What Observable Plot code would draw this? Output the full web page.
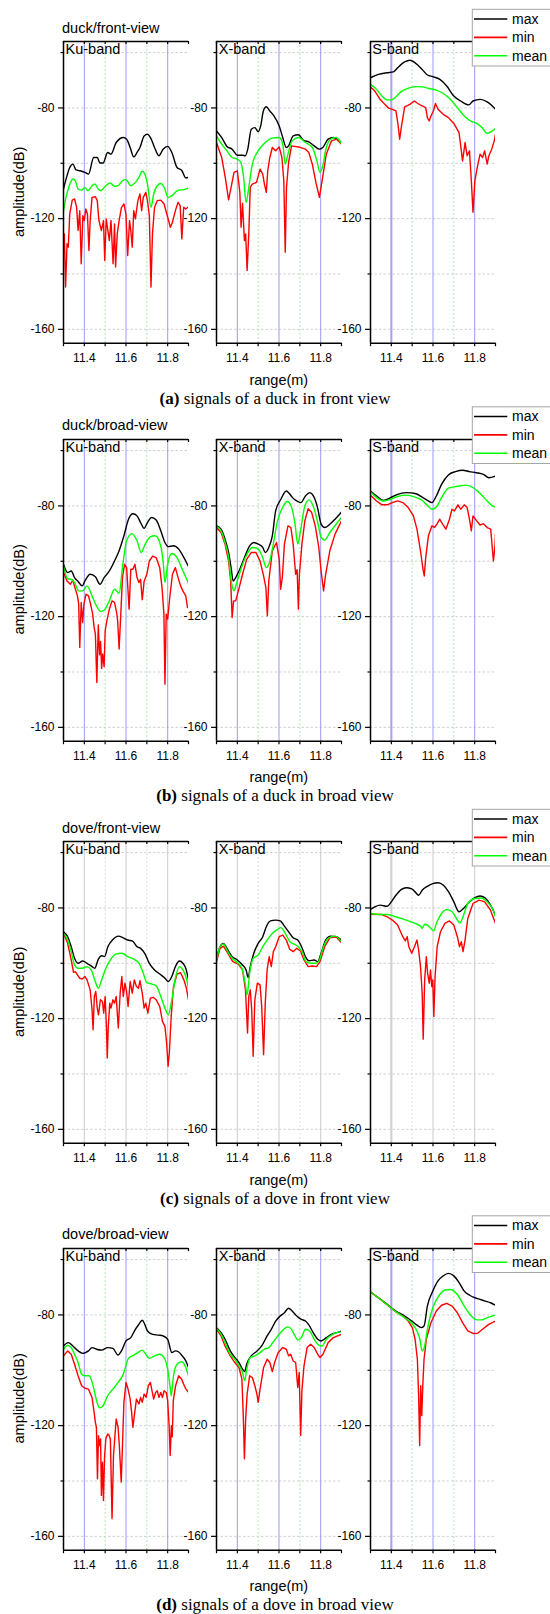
<!DOCTYPE html>
<html><head><meta charset="utf-8">
<script src="https://cdn.jsdelivr.net/npm/d3@7"></script>
<script src="https://cdn.jsdelivr.net/npm/@observablehq/plot@0.6"></script>
<style>
html,body{margin:0;padding:0;background:#fff;overflow:hidden;}
#root{position:relative;width:550px;height:1614px;overflow:hidden;}
.cell{position:absolute;}
</style></head><body><div id="root"></div>
<script>
// ---------- labels & ticks ----------
const panelTitles = ["duck/front-view","duck/broad-view","dove/front-view","dove/broad-view"];
const captionLetters = ["(a)","(b)","(c)","(d)"];
const captionTexts = [" signals of a duck in front view"," signals of a duck in broad view"," signals of a dove in front view"," signals of a dove in broad view"];
const bandNames = ["Ku-band","X-band","S-band"];
const seriesNames = ["max","min","mean"];
const seriesColors = ["#000000","#ff0000","#00ff00"];
const xTicks = [11.3,11.4,11.5,11.6,11.7,11.8,11.9];
const xTickLabels = [11.4,11.6,11.8];
const xMajorGrid = [11.4,11.6,11.8];
const xMinorGrid = [11.5,11.7];
const yTicks = [-60,-80,-100,-120,-140,-160];
const yTickLabels = [-80,-120,-160];
const yMinorTicks = [-60,-100,-140];
const xDomain = [11.3,11.9];
const yDomain = [-165,-56];
const xLabel = "range(m)";
const yLabel = "amplitude(dB)";

// ---------- (a) duck / front view ----------
const duckFrontKuMax = [[11.3,-109.3],[11.315,-105],[11.33,-101.5],[11.345,-100.3],[11.36,-102.4],[11.38,-102.7],[11.403,-103.3],[11.42,-103.9],[11.445,-97.9],[11.462,-97.9],[11.475,-99.9],[11.49,-99.9],[11.512,-96.1],[11.528,-96.7],[11.553,-92.5],[11.587,-90.7],[11.603,-91.3],[11.62,-94.3],[11.637,-97.7],[11.653,-96.1],[11.667,-94.3],[11.687,-90.1],[11.703,-89.5],[11.72,-91.1],[11.737,-94.3],[11.758,-97.3],[11.778,-94.9],[11.8,-93.9],[11.82,-96.1],[11.845,-101.5],[11.867,-102.5],[11.887,-105.3],[11.9,-105.1]];
const duckFrontKuMin = [[11.3,-132.7],[11.304,-125.5],[11.31,-144.7],[11.317,-129.1],[11.323,-130.3],[11.33,-118.3],[11.342,-113.3],[11.353,-112.9],[11.363,-115.9],[11.37,-124.3],[11.378,-117.1],[11.385,-136.3],[11.393,-118.9],[11.4,-120.7],[11.407,-116.5],[11.415,-118.3],[11.422,-131.5],[11.428,-120.7],[11.437,-112.3],[11.453,-112.1],[11.462,-113.5],[11.47,-120.7],[11.482,-124.3],[11.492,-120.7],[11.498,-135.1],[11.505,-120.1],[11.513,-124.3],[11.52,-127.9],[11.528,-120.7],[11.538,-136.3],[11.545,-121.9],[11.55,-137.5],[11.558,-125.5],[11.567,-120.7],[11.578,-116],[11.59,-114.7],[11.6,-118.5],[11.608,-133.3],[11.617,-120.7],[11.623,-124.3],[11.63,-130.3],[11.637,-117.1],[11.645,-120.1],[11.657,-113.5],[11.667,-111.1],[11.675,-117.1],[11.683,-112.3],[11.695,-110.5],[11.703,-113.5],[11.712,-118.9],[11.72,-144.7],[11.727,-125.5],[11.737,-115.9],[11.75,-113.5],[11.767,-113.3],[11.783,-114.7],[11.8,-119.5],[11.813,-123.1],[11.823,-121.3],[11.837,-117.1],[11.85,-114.1],[11.86,-115.3],[11.868,-127.3],[11.877,-115.9],[11.887,-116.5],[11.9,-115.7]];
const duckFrontKuMean = [[11.3,-117.1],[11.312,-112.3],[11.328,-108.1],[11.345,-105.7],[11.357,-106.3],[11.37,-109.3],[11.387,-109.7],[11.403,-108.7],[11.417,-109.9],[11.437,-108.1],[11.45,-107.5],[11.467,-109.3],[11.478,-109.9],[11.503,-108.1],[11.523,-107.1],[11.545,-108.3],[11.562,-108.1],[11.583,-106.3],[11.6,-105.9],[11.623,-108.1],[11.645,-106.9],[11.662,-105.1],[11.678,-102.9],[11.69,-103.9],[11.703,-107.5],[11.72,-115.9],[11.733,-111.1],[11.75,-108.1],[11.767,-107.3],[11.783,-108.7],[11.803,-112.3],[11.82,-111.7],[11.837,-110.5],[11.853,-109.7],[11.878,-109.5],[11.9,-109]];
const duckFrontXMax = [[11.3,-88.3],[11.325,-90.7],[11.35,-93.9],[11.375,-94.9],[11.4,-97.1],[11.425,-97.1],[11.438,-97.3],[11.45,-94.9],[11.467,-87.7],[11.484,-87.1],[11.5,-88.6],[11.512,-86.5],[11.525,-81.1],[11.539,-79.6],[11.556,-81.1],[11.576,-82.9],[11.601,-86.5],[11.618,-90.7],[11.635,-94.3],[11.646,-93.7],[11.668,-90.1],[11.693,-89.7],[11.718,-91.7],[11.743,-92.3],[11.769,-93.7],[11.794,-94.9],[11.81,-94.3],[11.836,-91.3],[11.861,-90.7],[11.886,-91.7],[11.9,-92.5]];
const duckFrontXMin = [[11.3,-92.5],[11.325,-97.9],[11.342,-105.1],[11.358,-113.2],[11.37,-108.7],[11.384,-103.3],[11.4,-102.7],[11.412,-110.5],[11.418,-123.1],[11.425,-114.5],[11.434,-127.9],[11.44,-125.5],[11.447,-138.7],[11.455,-125.5],[11.462,-108.7],[11.472,-107.5],[11.492,-106.9],[11.509,-102.1],[11.522,-103.9],[11.53,-107.5],[11.539,-110.5],[11.546,-102.7],[11.556,-97.9],[11.568,-94.3],[11.584,-95.5],[11.601,-94.1],[11.614,-97.9],[11.623,-106.3],[11.63,-132.1],[11.636,-108.7],[11.646,-99.7],[11.66,-93.7],[11.693,-94.1],[11.727,-94.9],[11.743,-96.1],[11.76,-100.3],[11.777,-106.9],[11.794,-112.3],[11.807,-106.3],[11.827,-96.7],[11.852,-91.9],[11.877,-91.3],[11.9,-93.1]];
const duckFrontXMean = [[11.3,-90.1],[11.325,-93.1],[11.35,-95.5],[11.375,-97.9],[11.4,-98.5],[11.417,-99.7],[11.43,-105.1],[11.442,-114.1],[11.455,-108.7],[11.472,-100.3],[11.5,-95.5],[11.534,-92.5],[11.567,-90.9],[11.601,-90.7],[11.618,-93.1],[11.63,-100.3],[11.643,-96.7],[11.663,-91.9],[11.693,-90.7],[11.727,-92.5],[11.76,-94.3],[11.782,-99.1],[11.797,-103.3],[11.81,-100.9],[11.827,-94.3],[11.852,-91.1],[11.874,-90.7],[11.9,-92.9]];
const duckFrontSMax = [[11.3,-69.1],[11.338,-67.9],[11.38,-67.3],[11.41,-67],[11.43,-65.5],[11.464,-63.4],[11.489,-62.8],[11.514,-63.7],[11.548,-66.1],[11.573,-68.1],[11.599,-68.7],[11.633,-69.7],[11.666,-72.1],[11.7,-75.7],[11.733,-77.5],[11.772,-78.9],[11.792,-77.5],[11.826,-76.9],[11.86,-77.8],[11.885,-79.3],[11.9,-80.5]];
const duckFrontSMin = [[11.3,-72.4],[11.321,-73.9],[11.346,-76.9],[11.371,-78.9],[11.388,-80.1],[11.405,-80.5],[11.422,-81.1],[11.432,-85.9],[11.44,-91.3],[11.449,-86.5],[11.464,-79.6],[11.489,-78.7],[11.511,-77.5],[11.527,-78.4],[11.548,-79.3],[11.565,-79.9],[11.573,-83.5],[11.582,-84.7],[11.59,-82.9],[11.602,-81.1],[11.612,-78.4],[11.624,-80.5],[11.649,-82.3],[11.674,-83.5],[11.7,-85.6],[11.725,-88.9],[11.742,-99.1],[11.754,-92.5],[11.764,-97.3],[11.775,-95.5],[11.784,-106.3],[11.792,-117.7],[11.801,-106.3],[11.814,-100.9],[11.826,-96.7],[11.838,-97.9],[11.848,-95.5],[11.86,-100.3],[11.868,-97.3],[11.882,-94.9],[11.894,-91.9],[11.9,-89.5]];
const duckFrontSMean = [[11.3,-71.5],[11.329,-73.3],[11.355,-75.7],[11.38,-77.1],[11.4,-77.1],[11.422,-76],[11.447,-74.1],[11.481,-72.9],[11.514,-72.3],[11.548,-72.4],[11.582,-73],[11.616,-73.6],[11.65,-74.8],[11.683,-76.9],[11.717,-79.9],[11.75,-82.9],[11.784,-84.9],[11.81,-85.6],[11.835,-87.1],[11.86,-89.2],[11.882,-88.5],[11.9,-87.4]];

// ---------- (b) duck / broad view ----------
const duckBroadKuMax = [[11.3,-101.1],[11.32,-104.1],[11.337,-103.5],[11.353,-105.9],[11.37,-107.3],[11.39,-108.9],[11.403,-107.1],[11.428,-104.7],[11.453,-105.6],[11.475,-108.3],[11.495,-105.9],[11.52,-103.5],[11.545,-99.9],[11.567,-96.2],[11.59,-90.8],[11.612,-84.8],[11.633,-82.8],[11.653,-83.6],[11.67,-86],[11.687,-88.1],[11.703,-86],[11.723,-84.2],[11.745,-85.1],[11.767,-89],[11.787,-93.2],[11.803,-94.7],[11.828,-94.4],[11.853,-95.6],[11.878,-98.7],[11.9,-101.9]];
const duckBroadKuMin = [[11.3,-104.1],[11.317,-107.1],[11.333,-108.3],[11.345,-106.8],[11.357,-110.1],[11.367,-112.5],[11.373,-115.5],[11.378,-131.1],[11.385,-114.9],[11.392,-122.1],[11.398,-115.5],[11.408,-111.9],[11.42,-112.5],[11.43,-115.5],[11.44,-119.1],[11.447,-123.9],[11.453,-126.3],[11.46,-143.8],[11.467,-123],[11.473,-133.8],[11.478,-129],[11.483,-138.7],[11.488,-133.5],[11.495,-138.1],[11.5,-125.1],[11.508,-121.5],[11.52,-117.3],[11.533,-114.3],[11.545,-114.9],[11.555,-118.5],[11.56,-121.5],[11.567,-131.7],[11.575,-119.1],[11.583,-105.9],[11.593,-101.1],[11.603,-102.3],[11.615,-117.3],[11.623,-102.9],[11.633,-102.9],[11.643,-101.1],[11.653,-105.9],[11.662,-107.7],[11.67,-106.5],[11.678,-113.9],[11.687,-107.2],[11.7,-104.7],[11.712,-99.9],[11.728,-98.1],[11.745,-98.7],[11.762,-102.3],[11.773,-109.5],[11.782,-119.1],[11.787,-144.4],[11.793,-119.1],[11.8,-120.9],[11.81,-113.1],[11.823,-104.7],[11.837,-102.3],[11.85,-105.9],[11.862,-108.9],[11.873,-110.7],[11.887,-112.5],[11.895,-116.7],[11.9,-116.4]];
const duckBroadKuMean = [[11.3,-101.7],[11.32,-106.3],[11.337,-106.5],[11.353,-107.7],[11.373,-110.7],[11.392,-110.7],[11.413,-108.9],[11.437,-112.5],[11.458,-116.1],[11.478,-118.1],[11.495,-117.7],[11.52,-114.3],[11.545,-110.1],[11.567,-111.6],[11.583,-102.3],[11.603,-92.6],[11.628,-90],[11.653,-92.6],[11.673,-96.8],[11.692,-93.8],[11.717,-91.2],[11.74,-90.8],[11.762,-93.2],[11.778,-99.9],[11.787,-107.7],[11.8,-101.1],[11.82,-97.2],[11.845,-98.7],[11.87,-102.9],[11.9,-108]];
const duckBroadXMax = [[11.3,-87.2],[11.322,-88.4],[11.341,-92],[11.358,-96.8],[11.37,-102.3],[11.38,-107.1],[11.392,-105.9],[11.408,-103.5],[11.434,-98.7],[11.459,-94.4],[11.479,-93.2],[11.5,-93.8],[11.522,-95],[11.534,-96.8],[11.551,-95],[11.568,-90.8],[11.584,-81.8],[11.609,-77.6],[11.635,-74.6],[11.646,-75.2],[11.665,-77],[11.685,-78.2],[11.705,-78.8],[11.727,-76.4],[11.747,-75.2],[11.765,-76.4],[11.785,-80.6],[11.802,-86.6],[11.819,-87.8],[11.844,-86.6],[11.869,-84.8],[11.9,-82.2]];
const duckBroadXMin = [[11.3,-87.8],[11.322,-89.6],[11.341,-93.8],[11.358,-99.9],[11.368,-107.1],[11.375,-120.3],[11.382,-114.3],[11.392,-114.3],[11.405,-110.7],[11.425,-104.7],[11.445,-99.3],[11.467,-96.8],[11.489,-96.8],[11.509,-99.9],[11.526,-105.3],[11.537,-109.5],[11.544,-119.7],[11.551,-107.1],[11.568,-96.2],[11.588,-93.2],[11.601,-99.3],[11.608,-110.1],[11.616,-105.9],[11.626,-93.8],[11.643,-87.2],[11.657,-87.8],[11.668,-93.8],[11.68,-104.7],[11.687,-103],[11.693,-117.3],[11.698,-104.7],[11.71,-93.8],[11.724,-85.4],[11.74,-81],[11.757,-82.4],[11.774,-87.2],[11.791,-95],[11.802,-103.5],[11.814,-110.7],[11.824,-104.7],[11.844,-96.2],[11.869,-90.2],[11.9,-85.4]];
const duckBroadXMean = [[11.3,-87.5],[11.322,-89],[11.341,-93.2],[11.358,-98.7],[11.372,-107.7],[11.384,-110.7],[11.395,-108.3],[11.417,-102.9],[11.442,-98.1],[11.472,-95],[11.5,-95.6],[11.522,-98.7],[11.539,-102.3],[11.551,-101.1],[11.568,-95.6],[11.593,-85.4],[11.618,-80.4],[11.64,-78.4],[11.66,-80.4],[11.677,-86.6],[11.69,-93.8],[11.702,-89.6],[11.724,-80],[11.744,-77.8],[11.764,-80],[11.786,-86],[11.802,-91.4],[11.819,-92.4],[11.844,-89.6],[11.874,-86.6],[11.9,-84.2]];
const duckBroadSMax = [[11.3,-74.6],[11.329,-76.4],[11.363,-78],[11.397,-77],[11.43,-75.8],[11.472,-75.2],[11.514,-75.5],[11.548,-76.8],[11.573,-78],[11.595,-78.8],[11.616,-76.4],[11.641,-72.2],[11.674,-68.8],[11.708,-67.6],[11.742,-67.1],[11.775,-67.6],[11.808,-68],[11.842,-68.6],[11.868,-69.8],[11.9,-69.2]];
const duckBroadSMin = [[11.3,-76.1],[11.329,-78.2],[11.355,-79.6],[11.38,-79.6],[11.405,-78.8],[11.43,-78.2],[11.455,-78.8],[11.481,-80.6],[11.506,-83.6],[11.523,-88.4],[11.54,-96.2],[11.552,-102.9],[11.558,-105.3],[11.565,-98.7],[11.578,-90.8],[11.595,-87.2],[11.607,-87.8],[11.619,-86.6],[11.632,-84.8],[11.646,-86.6],[11.662,-88.4],[11.679,-84.8],[11.691,-81.2],[11.703,-81.8],[11.72,-79.6],[11.733,-81.2],[11.75,-79.6],[11.764,-80.6],[11.775,-84.8],[11.784,-89],[11.792,-83.6],[11.808,-85.2],[11.826,-86.9],[11.842,-86.4],[11.86,-87.8],[11.877,-88.4],[11.89,-99.9],[11.897,-95],[11.9,-90.2]];
const duckBroadSMean = [[11.3,-74.9],[11.329,-77],[11.363,-78.2],[11.397,-77.6],[11.43,-76.6],[11.472,-76.1],[11.514,-76.8],[11.548,-78],[11.573,-79.8],[11.595,-81.2],[11.616,-80.4],[11.641,-77],[11.674,-73.6],[11.717,-72.9],[11.759,-72.5],[11.792,-73.4],[11.826,-75.5],[11.86,-78.2],[11.885,-80],[11.9,-80.4]];

// ---------- (c) dove / front view ----------
const doveFrontKuMax = [[11.3,-88.6],[11.32,-90.4],[11.337,-94],[11.353,-98.2],[11.37,-100],[11.392,-99.2],[11.413,-100],[11.437,-101.2],[11.45,-101.8],[11.467,-98.6],[11.483,-97.3],[11.497,-97.6],[11.513,-94],[11.537,-91.4],[11.563,-90.2],[11.587,-90.8],[11.608,-91.6],[11.63,-91.9],[11.653,-94],[11.67,-94.6],[11.69,-96.4],[11.712,-100],[11.737,-102.4],[11.762,-103.9],[11.787,-105.4],[11.803,-106.6],[11.82,-104.8],[11.837,-101.2],[11.857,-99.2],[11.873,-100],[11.887,-101.8],[11.9,-106]];
const doveFrontKuMin = [[11.3,-89.2],[11.32,-92.8],[11.337,-98.8],[11.348,-103.3],[11.357,-103],[11.367,-104.2],[11.378,-105.4],[11.39,-105.7],[11.403,-104.8],[11.413,-106],[11.428,-109.6],[11.437,-116.8],[11.442,-124],[11.448,-112],[11.455,-110.2],[11.462,-116.2],[11.468,-118.6],[11.477,-113.2],[11.487,-113.8],[11.493,-118],[11.5,-112],[11.507,-125.2],[11.51,-134.2],[11.515,-122.8],[11.522,-114.4],[11.528,-116.2],[11.537,-113.2],[11.545,-114.4],[11.553,-112],[11.563,-123.4],[11.572,-110.8],[11.58,-104.8],[11.587,-112],[11.595,-107.2],[11.603,-110.2],[11.61,-115.6],[11.62,-106.6],[11.63,-110.8],[11.64,-106],[11.65,-108.4],[11.66,-109],[11.667,-106.3],[11.678,-110.8],[11.687,-116.2],[11.695,-114.4],[11.705,-118],[11.717,-112.6],[11.73,-112.3],[11.745,-113.2],[11.762,-115.6],[11.775,-121],[11.787,-122.8],[11.795,-128.8],[11.802,-137.2],[11.808,-132.4],[11.817,-119.2],[11.828,-108.4],[11.845,-103.9],[11.862,-103.4],[11.878,-106],[11.89,-109],[11.9,-113.2]];
const doveFrontKuMean = [[11.3,-89.2],[11.32,-91.6],[11.337,-95.8],[11.353,-100.6],[11.37,-101.8],[11.39,-101.8],[11.412,-101.2],[11.433,-102.4],[11.45,-106],[11.467,-109],[11.483,-106],[11.5,-102.4],[11.525,-98.8],[11.55,-96.7],[11.58,-96.4],[11.608,-97.6],[11.637,-98.5],[11.663,-100],[11.683,-103.6],[11.7,-107],[11.725,-107.5],[11.747,-108.4],[11.767,-112],[11.787,-116.2],[11.803,-118.6],[11.82,-113.2],[11.837,-105.4],[11.857,-101.2],[11.873,-102.4],[11.887,-104.8],[11.9,-109]];
const doveFrontXMax = [[11.3,-98.8],[11.317,-94],[11.333,-92.8],[11.35,-94.6],[11.375,-97.6],[11.4,-98.8],[11.425,-100.6],[11.442,-102.4],[11.452,-105.2],[11.462,-101.2],[11.479,-96.4],[11.5,-92.8],[11.522,-90.4],[11.539,-86.8],[11.559,-84.7],[11.584,-84.4],[11.606,-84.7],[11.626,-86.6],[11.646,-88.6],[11.668,-90.8],[11.69,-91.6],[11.71,-94.3],[11.727,-97.6],[11.744,-99.1],[11.769,-98.8],[11.786,-99.4],[11.802,-96.4],[11.824,-91.6],[11.848,-90.2],[11.874,-90.4],[11.9,-91.6]];
const doveFrontXMin = [[11.3,-99.4],[11.317,-94.6],[11.333,-93.8],[11.355,-96.4],[11.378,-99.4],[11.405,-100.3],[11.425,-102.4],[11.439,-109.6],[11.449,-125.2],[11.455,-112],[11.462,-109.6],[11.469,-116.8],[11.476,-133.6],[11.484,-113.2],[11.496,-107.2],[11.509,-107.8],[11.517,-115.6],[11.526,-133],[11.534,-114.4],[11.543,-102.4],[11.553,-97.6],[11.563,-101.2],[11.573,-95.8],[11.584,-94],[11.601,-90.4],[11.618,-89.8],[11.635,-91.6],[11.652,-95],[11.668,-95.8],[11.685,-94.6],[11.702,-95.4],[11.72,-98.8],[11.74,-101.2],[11.76,-101],[11.78,-101.2],[11.797,-99.4],[11.819,-94],[11.844,-90.8],[11.874,-90.4],[11.9,-92.6]];
const doveFrontXMean = [[11.3,-99.1],[11.317,-94],[11.333,-93],[11.35,-95.2],[11.375,-98.2],[11.4,-99.7],[11.422,-101.8],[11.439,-107.8],[11.447,-111.4],[11.459,-103.6],[11.476,-98.2],[11.5,-97],[11.522,-94],[11.543,-91.6],[11.568,-89.2],[11.593,-87.8],[11.609,-87.1],[11.63,-89.2],[11.652,-92.2],[11.673,-93.1],[11.693,-94],[11.714,-96.4],[11.73,-99.4],[11.752,-100],[11.777,-100],[11.794,-98.8],[11.811,-94.6],[11.836,-91],[11.869,-90.2],[11.9,-92.2]];
const doveFrontSMax = [[11.3,-80.5],[11.321,-79.6],[11.346,-79],[11.38,-79.4],[11.4,-77.8],[11.422,-75.4],[11.447,-73.4],[11.472,-72.7],[11.498,-73.1],[11.514,-74.2],[11.531,-75.4],[11.548,-73.6],[11.573,-72.2],[11.599,-71.2],[11.624,-70.9],[11.65,-71.8],[11.675,-74.2],[11.7,-77.8],[11.725,-81.4],[11.75,-79.9],[11.776,-77.8],[11.801,-76.3],[11.826,-75.7],[11.848,-76.3],[11.876,-79],[11.9,-82.6]];
const doveFrontSMin = [[11.3,-82.3],[11.355,-82.4],[11.38,-83.2],[11.405,-84.4],[11.43,-86.2],[11.455,-90.4],[11.467,-91.9],[11.476,-90.4],[11.484,-94],[11.498,-96.4],[11.511,-94],[11.523,-91.6],[11.531,-95.2],[11.54,-101.2],[11.548,-110.8],[11.553,-127.4],[11.56,-106],[11.568,-97.6],[11.574,-103.6],[11.582,-107.2],[11.588,-102.4],[11.594,-108.4],[11.599,-106],[11.604,-119.2],[11.61,-104.8],[11.62,-94],[11.636,-88.6],[11.657,-85.6],[11.679,-84.7],[11.7,-86.2],[11.717,-90.4],[11.727,-94],[11.736,-92.2],[11.744,-95.8],[11.754,-91.6],[11.767,-83.8],[11.792,-78.4],[11.821,-77.2],[11.848,-77.8],[11.876,-80.8],[11.9,-85.6]];
const doveFrontSMean = [[11.3,-82],[11.346,-82.4],[11.38,-82.4],[11.413,-83],[11.447,-83.8],[11.481,-84.7],[11.514,-85.6],[11.54,-86.6],[11.548,-87.4],[11.56,-85.9],[11.573,-86.2],[11.59,-87.4],[11.603,-88.3],[11.616,-85.6],[11.641,-82],[11.666,-80.6],[11.692,-81.4],[11.708,-83.2],[11.729,-85.4],[11.747,-82.6],[11.767,-78.4],[11.801,-76.6],[11.831,-76.4],[11.86,-77.8],[11.885,-80.2],[11.9,-83.2]];

// ---------- (d) dove / broad view ----------
const doveBroadKuMax = [[11.3,-91.2],[11.323,-90],[11.345,-91.2],[11.37,-93],[11.392,-93.9],[11.42,-93],[11.437,-91.8],[11.458,-92.4],[11.483,-92.7],[11.512,-91.8],[11.537,-92.1],[11.562,-94.5],[11.578,-93],[11.6,-89.4],[11.623,-88.2],[11.645,-85.2],[11.662,-83.4],[11.678,-81.9],[11.69,-83.4],[11.703,-85.8],[11.728,-87],[11.757,-87.3],[11.778,-87.6],[11.8,-88.8],[11.82,-93.6],[11.837,-93],[11.853,-93.4],[11.87,-94.8],[11.887,-96.6],[11.9,-99]];
const doveBroadKuMin = [[11.3,-94.8],[11.32,-93],[11.337,-94.2],[11.353,-97.8],[11.37,-102],[11.387,-105.6],[11.403,-106.5],[11.42,-106.8],[11.437,-109.8],[11.447,-115.2],[11.453,-118.8],[11.458,-120.6],[11.463,-139.2],[11.468,-123.6],[11.473,-127.2],[11.478,-124.8],[11.482,-145.2],[11.487,-133.2],[11.492,-147],[11.497,-131.4],[11.503,-124.8],[11.512,-123],[11.518,-123.4],[11.525,-124.8],[11.533,-153.6],[11.54,-130.8],[11.547,-123.6],[11.553,-117.6],[11.562,-120.6],[11.568,-127.2],[11.577,-140.4],[11.583,-127.2],[11.59,-111.6],[11.6,-104.4],[11.61,-106.8],[11.62,-110.4],[11.627,-115.2],[11.633,-120.6],[11.64,-116.4],[11.65,-110.4],[11.662,-112.2],[11.67,-109.8],[11.678,-111.6],[11.687,-108.6],[11.697,-109.8],[11.707,-105.6],[11.717,-104.4],[11.725,-107.4],[11.733,-110.4],[11.742,-108],[11.75,-107.4],[11.758,-109.8],[11.767,-108],[11.775,-109.8],[11.783,-107.4],[11.793,-108],[11.8,-111],[11.807,-120],[11.812,-130.8],[11.818,-120],[11.822,-124],[11.827,-111],[11.838,-105.6],[11.853,-102],[11.867,-103.2],[11.88,-105.6],[11.888,-106.8],[11.9,-108]];
const doveBroadKuMean = [[11.3,-92.4],[11.32,-91],[11.337,-91.8],[11.353,-94.2],[11.37,-97.2],[11.387,-101.4],[11.403,-102],[11.423,-102],[11.44,-105],[11.457,-110.4],[11.473,-113.6],[11.49,-112.8],[11.512,-109.2],[11.537,-106.8],[11.562,-104.4],[11.587,-101.4],[11.612,-95.7],[11.637,-94.5],[11.657,-93.6],[11.678,-92.7],[11.695,-94.2],[11.712,-95.7],[11.737,-94.8],[11.762,-94.2],[11.783,-95.4],[11.8,-99.6],[11.812,-106.2],[11.817,-109.2],[11.828,-102],[11.845,-97.8],[11.867,-96.9],[11.887,-99],[11.9,-102]];
const doveBroadXMax = [[11.3,-84.6],[11.322,-86.4],[11.341,-88.8],[11.366,-93],[11.388,-95.4],[11.408,-97.2],[11.425,-99.6],[11.435,-100.5],[11.445,-97.8],[11.467,-94.8],[11.492,-93.2],[11.517,-91.2],[11.543,-87.6],[11.563,-85.2],[11.584,-82.2],[11.606,-80.4],[11.626,-79.2],[11.646,-77.6],[11.663,-78.6],[11.685,-80.4],[11.707,-81.6],[11.727,-82.2],[11.744,-83.7],[11.764,-86.4],[11.786,-88.8],[11.802,-89.4],[11.827,-88.2],[11.852,-87],[11.877,-86.4],[11.9,-85.8]];
const doveBroadXMin = [[11.3,-85.2],[11.322,-87.6],[11.341,-91.2],[11.366,-94.8],[11.388,-97.2],[11.408,-99],[11.422,-103.2],[11.429,-117.6],[11.434,-132],[11.44,-117.6],[11.447,-108.6],[11.459,-102],[11.472,-102.6],[11.484,-105.6],[11.494,-108.6],[11.5,-111.6],[11.509,-106.8],[11.526,-99],[11.543,-96],[11.556,-97.2],[11.568,-100.5],[11.579,-97.2],[11.596,-93.6],[11.618,-91.8],[11.635,-92.4],[11.646,-94.8],[11.656,-94.2],[11.668,-96.6],[11.68,-97.2],[11.69,-106.2],[11.697,-100.8],[11.704,-123.6],[11.71,-107.4],[11.72,-98.4],[11.735,-91.8],[11.752,-90.6],[11.769,-91.8],[11.786,-94.2],[11.797,-95.4],[11.811,-94.2],[11.836,-90],[11.861,-88.2],[11.9,-87]];
const doveBroadXMean = [[11.3,-84.9],[11.322,-87],[11.341,-90],[11.366,-94.2],[11.388,-96],[11.408,-98.4],[11.425,-100.8],[11.435,-103.8],[11.445,-99.6],[11.462,-95.4],[11.484,-94.8],[11.509,-93.6],[11.529,-92.4],[11.551,-91.8],[11.576,-89.4],[11.601,-87],[11.623,-85.2],[11.643,-84.3],[11.66,-85.2],[11.677,-87.6],[11.69,-89.1],[11.707,-88.2],[11.727,-85.2],[11.747,-85.8],[11.769,-88.8],[11.791,-90.9],[11.807,-91.2],[11.827,-88.8],[11.852,-87.3],[11.877,-86.4],[11.9,-86.1]];
const doveBroadSMax = [[11.3,-71.7],[11.338,-73.8],[11.38,-76.2],[11.422,-78.6],[11.464,-80.4],[11.498,-82.2],[11.523,-83.7],[11.543,-84.6],[11.557,-84],[11.573,-76.8],[11.599,-71.4],[11.624,-67.7],[11.649,-65.9],[11.674,-65],[11.7,-65.9],[11.725,-68.3],[11.75,-71.4],[11.776,-72.9],[11.801,-73.8],[11.826,-74.4],[11.851,-75],[11.876,-75.6],[11.9,-76.5]];
const doveBroadSMin = [[11.3,-71.7],[11.338,-73.8],[11.38,-76.3],[11.422,-78.9],[11.456,-80.4],[11.481,-82.2],[11.501,-84.6],[11.514,-88.8],[11.525,-96],[11.531,-109.2],[11.536,-127.2],[11.541,-105.6],[11.546,-116.4],[11.551,-105.6],[11.557,-96],[11.568,-88.8],[11.59,-82.8],[11.616,-78.6],[11.641,-76.5],[11.666,-75.8],[11.692,-76.8],[11.717,-79.2],[11.742,-82.8],[11.767,-85.8],[11.792,-86.7],[11.814,-86.6],[11.838,-85.2],[11.868,-83.4],[11.9,-82.2]];
const doveBroadSMean = [[11.3,-71.7],[11.338,-73.8],[11.38,-76.3],[11.422,-78.9],[11.464,-81],[11.498,-83],[11.523,-85.8],[11.537,-88.8],[11.548,-93],[11.56,-91.2],[11.573,-85.2],[11.599,-77.4],[11.633,-72.6],[11.658,-71],[11.683,-70.8],[11.717,-72.6],[11.75,-76.8],[11.784,-80.4],[11.81,-81.8],[11.835,-81.8],[11.86,-81],[11.885,-80.4],[11.9,-80.1]];

// table built from the arrays: [panel][band] -> [max, min, mean]
const table = [
  [[duckFrontKuMax,duckFrontKuMin,duckFrontKuMean],[duckFrontXMax,duckFrontXMin,duckFrontXMean],[duckFrontSMax,duckFrontSMin,duckFrontSMean]],
  [[duckBroadKuMax,duckBroadKuMin,duckBroadKuMean],[duckBroadXMax,duckBroadXMin,duckBroadXMean],[duckBroadSMax,duckBroadSMin,duckBroadSMean]],
  [[doveFrontKuMax,doveFrontKuMin,doveFrontKuMean],[doveFrontXMax,doveFrontXMin,doveFrontXMean],[doveFrontSMax,doveFrontSMin,doveFrontSMean]],
  [[doveBroadKuMax,doveBroadKuMin,doveBroadKuMean],[doveBroadXMax,doveBroadXMin,doveBroadXMean],[doveBroadSMax,doveBroadSMin,doveBroadSMean]]
];

// ---------- layout ----------
const frameTops = [41, 438.5, 841, 1247.5];
const frameLefts = [63, 216.3, 369.8];
const W = 125, H = 301.7;
const mL = 44, mR = 6, mT = 6, mB = 28;
const SANS = "'Liberation Sans', Arial, sans-serif";
const SERIF = "'Liberation Serif', 'Times New Roman', serif";
const root = document.getElementById("root");

const isIn = (arr, v) => arr.some(a => Math.abs(a - v) < 1e-9);

function subplot(p, b) {
  const grayGrid = p === 2;
  const major = grayGrid ? "#cfcfcf" : "#a3a3f3";
  const minor = grayGrid ? "#d9d9d9" : "#a8eaa8";
  const [sMax, sMin, sMean] = table[p][b];
  const line = (data, color, curve) => Plot.line(data, {x: d => d[0], y: d => d[1], stroke: color, strokeWidth: 1.4, curve, clip: true});
  return Plot.plot({
    width: W + mL + mR, height: H + mT + mB,
    marginLeft: mL, marginRight: mR, marginTop: mT, marginBottom: mB,
    x: {domain: xDomain, axis: null},
    y: {domain: yDomain, axis: null},
    style: {background: "transparent", overflow: "visible", fontFamily: SANS, fontSize: "12px", color: "#000", maxWidth: "none"},
    marks: [
      Plot.ruleY(yTicks, {stroke: "#c4c4c4", strokeWidth: 0.8, strokeDasharray: "2.5,2"}),
      Plot.ruleX(xMinorGrid, {stroke: minor, strokeWidth: 0.9, strokeDasharray: "2,2"}),
      Plot.ruleX(xMajorGrid, {stroke: major, strokeWidth: 1.1}),
      b === 2 ? Plot.ruleX([xMajorGrid[0]], {stroke: major, strokeWidth: 2.2, strokeOpacity: 0.8}) : null,
      line(sMax, seriesColors[0], "monotone-x"),
      line(sMin, seriesColors[1], "linear"),
      line(sMean, seriesColors[2], "monotone-x"),
      Plot.ruleX([xDomain[0]], {stroke: "#000", strokeWidth: 1.5}),
      Plot.ruleY([yDomain[0]], {stroke: "#000", strokeWidth: 1.5}),
      Plot.ruleY([yDomain[1]], {stroke: "#000", strokeWidth: 1.5}),
      Plot.ruleX(xTicks, {stroke: "#000", strokeWidth: 1.2, insetBottom: H - 3}),
      Plot.axisX(xTicks, {tickSize: 3.5, tickPadding: 7, strokeWidth: 1.2, fontSize: 12, label: null,
        tickFormat: d => isIn(xTickLabels, d) ? d.toFixed(1) : ""}),
      Plot.axisY(yTickLabels, {tickSize: 5, tickPadding: 4, strokeWidth: 1.2, fontSize: 12, label: null,
        tickFormat: d => String(d)}),
      Plot.axisY(yMinorTicks, {tickSize: 2.5, strokeWidth: 1.2, label: null, tickFormat: () => ""})
    ]
  });
}

for (let p = 0; p < 4; p++) {
  for (let b = 0; b < 3; b++) {
    const div = document.createElement("div");
    div.className = "cell";
    div.style.left = (frameLefts[b] - mL) + "px";
    div.style.top = (frameTops[p] - mT) + "px";
    div.appendChild(subplot(p, b));
    root.appendChild(div);
  }
}

// ---------- overlay: titles, labels, legends, captions ----------
const ov = d3.create("svg").attr("width", 550).attr("height", 1614)
  .style("position", "absolute").style("left", "0px").style("top", "0px").style("overflow", "hidden");
for (let p = 0; p < 4; p++) {
  const top = frameTops[p], bottom = top + H;
  ov.append("text").attr("x", 62).attr("y", top - 8.5).attr("font-family", SANS).attr("font-size", 14.5).text(panelTitles[p]);
  for (let b = 0; b < 3; b++) {
    ov.append("text").attr("x", frameLefts[b] + 2.5).attr("y", top + 13.3).attr("font-family", SANS).attr("font-size", 14.5).text(bandNames[b]);
  }
  ov.append("text").attr("transform", `translate(24,${top + H / 2}) rotate(-90)`).attr("text-anchor", "middle")
    .attr("font-family", SANS).attr("font-size", 14.5).text(yLabel);
  ov.append("text").attr("x", frameLefts[1] + W / 2).attr("y", bottom + 42).attr("text-anchor", "middle")
    .attr("font-family", SANS).attr("font-size", 14.5).text(xLabel);
  const cap = ov.append("text").attr("x", 275).attr("y", bottom + 61).attr("text-anchor", "middle")
    .attr("font-family", SERIF).attr("font-size", 17);
  cap.append("tspan").attr("font-weight", "bold").text(captionLetters[p]);
  cap.append("tspan").text(captionTexts[p]);
  // legend
  const lg = ov.append("g").attr("transform", `translate(472.3,${top - 31.7})`);
  lg.append("rect").attr("width", 82).attr("height", 56.7).attr("fill", "#fff").attr("stroke", "#a6a6a6").attr("stroke-width", 1);
  seriesNames.forEach((name, i) => {
    const yy = 9.7 + i * 18.4;
    lg.append("line").attr("x1", 1.7).attr("x2", 35).attr("y1", yy).attr("y2", yy).attr("stroke", seriesColors[i]).attr("stroke-width", 1.6);
    lg.append("text").attr("x", 39.7).attr("y", yy + 5).attr("font-family", SANS).attr("font-size", 14).text(name);
  });
}
root.appendChild(ov.node());
</script></body></html>
